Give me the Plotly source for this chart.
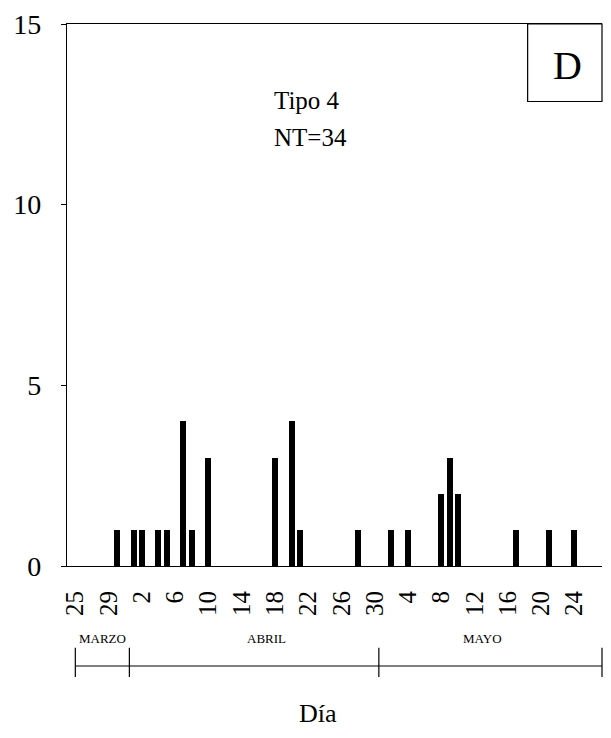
import plotly.graph_objects as go

# --- data -------------------------------------------------------------
bar_dates = ["1990-03-30", "1990-04-01", "1990-04-02", "1990-04-04", "1990-04-05",
             "1990-04-07", "1990-04-08", "1990-04-10", "1990-04-18", "1990-04-20",
             "1990-04-21", "1990-04-28", "1990-05-02", "1990-05-04", "1990-05-08",
             "1990-05-09", "1990-05-10", "1990-05-17", "1990-05-21", "1990-05-24"]
bar_counts = [1, 1, 1, 1, 1, 4, 1, 3, 3, 4, 1, 1, 1, 1, 2, 3, 2, 1, 1, 1]

tick_dates = ["1990-03-25", "1990-03-29", "1990-04-02", "1990-04-06", "1990-04-10",
              "1990-04-14", "1990-04-18", "1990-04-22", "1990-04-26", "1990-04-30",
              "1990-05-04", "1990-05-08", "1990-05-12", "1990-05-16", "1990-05-20",
              "1990-05-24"]
tick_labels = ["25", "29", "2", "6", "10", "14", "18", "22", "26", "30",
               "4", "8", "12", "16", "20", "24"]

month_names = ["MARZO", "ABRIL", "MAYO"]
month_label_dates = ["1990-03-28 06:00", "1990-04-17", "1990-05-13"]
month_bounds = ["1990-03-25", "1990-03-31 12:00", "1990-04-30 12:00"]

x_range = ["1990-03-24", "1990-05-27 08:00"]
y_ticks = [0, 5, 10, 15]

FONT = "Liberation Serif, Times New Roman, serif"
DAY_MS = 86400000

fig = go.Figure()
fig.add_trace(go.Bar(
    x=bar_dates, y=bar_counts,
    width=[0.72 * DAY_MS] * len(bar_dates),
    marker=dict(color="black", line=dict(width=0)),
    hoverinfo="x+y",
))

shapes = []
# bracket line under the month names
shapes.append(dict(type="line", xref="x", yref="paper",
                   x0=month_bounds[0], x1=x_range[1], y0=-0.1845, y1=-0.1845,
                   line=dict(color="black", width=1.2)))
for b in month_bounds:
    shapes.append(dict(type="line", xref="x", yref="paper",
                       x0=b, x1=b, y0=-0.151, y1=-0.205,
                       line=dict(color="black", width=1.2)))
shapes.append(dict(type="line", xref="paper", yref="paper",
                   x0=1, x1=1, y0=-0.151, y1=-0.205,
                   line=dict(color="black", width=1.2)))
# "D" box
shapes.append(dict(type="rect", xref="paper", yref="paper",
                   x0=0.861, x1=1.0, y0=0.857, y1=1.0,
                   line=dict(color="black", width=1.2), fillcolor="white"))

annotations = []
for name, d in zip(month_names, month_label_dates):
    annotations.append(dict(text=name, x=d, xref="x", y=-0.134, yref="paper",
                            showarrow=False, xanchor="center", yanchor="middle",
                            font=dict(family=FONT, size=13, color="black")))
annotations += [
    dict(text="D", x=0.936, y=0.924, xref="paper", yref="paper", showarrow=False,
         xanchor="center", yanchor="middle",
         font=dict(family=FONT, size=40, color="black")),
    dict(text="Tipo 4", x=0.383, y=0.858, xref="paper", yref="paper", showarrow=False,
         xanchor="left", yanchor="middle",
         font=dict(family=FONT, size=25, color="black")),
    dict(text="NT=34", x=0.383, y=0.790, xref="paper", yref="paper", showarrow=False,
         xanchor="left", yanchor="middle",
         font=dict(family=FONT, size=25, color="black")),
    dict(text="Día", x=0.47, y=-0.272, xref="paper", yref="paper", showarrow=False,
         xanchor="center", yanchor="middle",
         font=dict(family=FONT, size=26, color="black")),
]

fig.update_layout(
    width=611, height=738,
    margin=dict(l=67, r=9, t=24, b=172),
    paper_bgcolor="white", plot_bgcolor="white",
    showlegend=False,
    shapes=shapes, annotations=annotations,
    xaxis=dict(
        type="date", range=x_range,
        tickmode="array", tickvals=tick_dates, ticktext=tick_labels,
        tickangle=-90, ticks="", ticklabelstandoff=14,
        tickfont=dict(family=FONT, size=25, color="black"),
        showline=True, mirror=True, linecolor="black", linewidth=1.2,
        showgrid=False, zeroline=False,
    ),
    yaxis=dict(
        range=[0, 15], tickmode="array", tickvals=y_ticks,
        ticks="outside", ticklen=5, tickcolor="black", ticklabelstandoff=14,
        tickfont=dict(family=FONT, size=28, color="black"),
        showline=True, linecolor="black", linewidth=1.2,
        showgrid=False, zeroline=False,
    ),
    bargap=0,
)

fig.write_html("out.html")
